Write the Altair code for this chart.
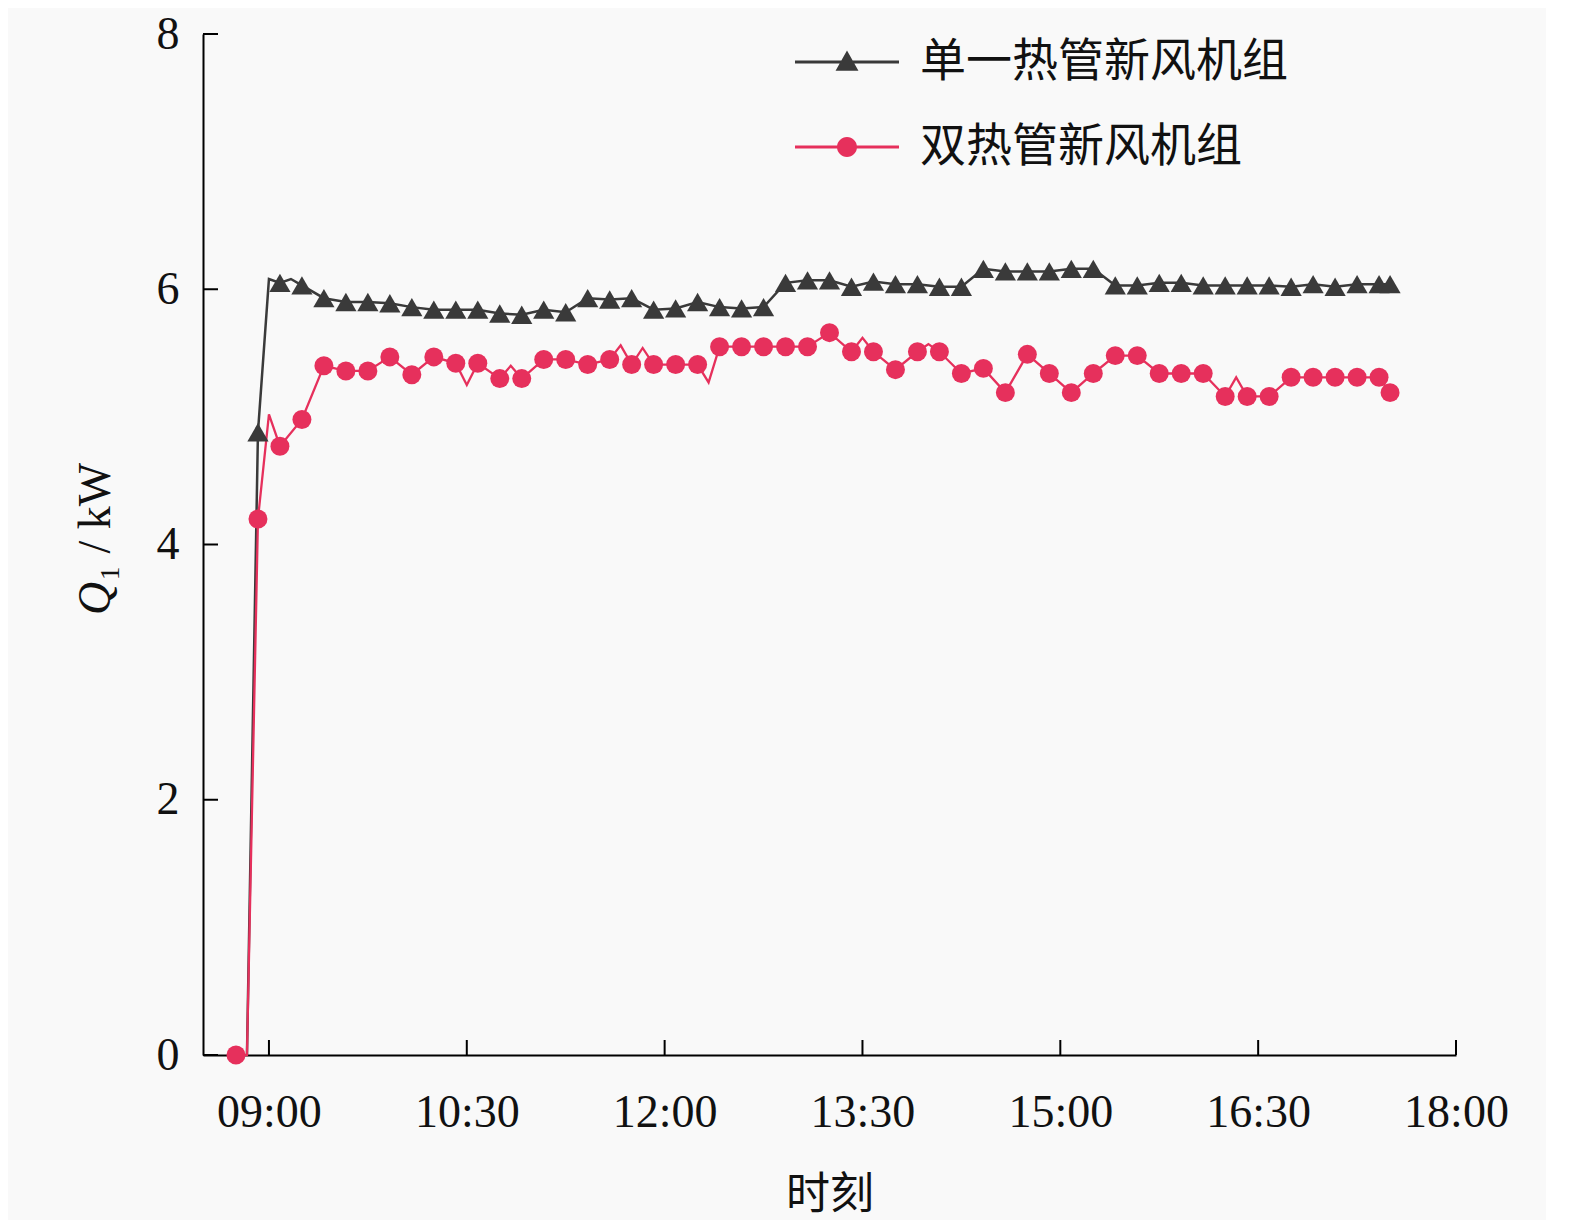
import altair as alt
import pandas as pd

black_name = "单一热管新风机组"
red_name = "双热管新风机组"

# marker points (10-minute readings)
red_mk_times = ["08:45", "08:55", "09:05", "09:15", "09:25", "09:35", "09:45", "09:55",
                "10:05", "10:15", "10:25", "10:35", "10:45", "10:55",
                "11:05", "11:15", "11:25", "11:35", "11:45", "11:55",
                "12:05", "12:15", "12:25", "12:35", "12:45", "12:55",
                "13:05", "13:15", "13:25", "13:35", "13:45", "13:55",
                "14:05", "14:15", "14:25", "14:35", "14:45", "14:55",
                "15:05", "15:15", "15:25", "15:35", "15:45", "15:55",
                "16:05", "16:15", "16:25", "16:35", "16:45", "16:55",
                "17:05", "17:15", "17:25", "17:30"]
red_mk_vals = [0.00, 4.20, 4.77, 4.98, 5.40, 5.36, 5.36, 5.47,
               5.33, 5.47, 5.42, 5.42, 5.30, 5.30,
               5.45, 5.45, 5.41, 5.45, 5.41, 5.41,
               5.41, 5.41, 5.55, 5.55, 5.55, 5.55,
               5.55, 5.66, 5.51, 5.51, 5.37, 5.51,
               5.51, 5.34, 5.38, 5.19, 5.49, 5.34,
               5.19, 5.34, 5.48, 5.48, 5.34, 5.34,
               5.34, 5.16, 5.16, 5.16, 5.31, 5.31,
               5.31, 5.31, 5.31, 5.19]
# intermediate readings (line only)
red_ex_times = ["08:50", "09:00", "10:30", "10:50", "11:40", "11:50", "12:20", "13:30", "14:00", "16:20"]
red_ex_vals = [0.00, 5.02, 5.25, 5.40, 5.56, 5.54, 5.27, 5.62, 5.57, 5.31]

black_mk_times = red_mk_times[1:]
black_mk_vals = [4.88, 6.05, 6.03, 5.93, 5.90, 5.90, 5.89,
                 5.86, 5.84, 5.84, 5.84, 5.81, 5.80,
                 5.84, 5.82, 5.93, 5.92, 5.93, 5.84,
                 5.85, 5.90, 5.86, 5.85, 5.86, 6.05,
                 6.07, 6.07, 6.02, 6.06, 6.04, 6.04,
                 6.02, 6.02, 6.16, 6.14, 6.14, 6.14,
                 6.16, 6.16, 6.03, 6.03, 6.05, 6.05,
                 6.03, 6.03, 6.03, 6.03, 6.02, 6.04,
                 6.02, 6.04, 6.04, 6.04]
black_ex_times = ["08:50", "09:00", "09:10"]
black_ex_vals = [0.00, 6.08, 6.08]

x_tick_vals = [540, 630, 720, 810, 900, 990, 1080]
y_tick_vals = [0, 2, 4, 6, 8]

series_names = [black_name, red_name]
series_colors = ["#3a3a3a", "#e6305c"]

y_title_parts = ["Q", "₁ / kW"]


def to_min(s):
    h, m = s.split(":")
    return int(h) * 60 + int(m)


def frame(times, vals, name):
    return pd.DataFrame({"t": [to_min(s) for s in times], "v": vals, "series": name})


pts = pd.concat([frame(black_mk_times, black_mk_vals, black_name),
                 frame(red_mk_times, red_mk_vals, red_name)], ignore_index=True)
line_df = pd.concat([pts,
                     frame(black_ex_times, black_ex_vals, black_name),
                     frame(red_ex_times, red_ex_vals, red_name)], ignore_index=True)
line_df = line_df.sort_values(["series", "t"]).reset_index(drop=True)

W, H = 1253, 1021
num_font = "Liberation Serif"
cjk_font = "Noto Sans CJK SC"

xscale = alt.Scale(domain=[510, 1080], nice=False, zero=False)
yscale = alt.Scale(domain=[0, 8], nice=False)
cscale = alt.Scale(domain=series_names, range=series_colors)

xaxis = alt.Axis(values=x_tick_vals,
                 labelExpr="(datum.value < 600 ? '0' : '') + floor(datum.value / 60) + ':' + (datum.value % 60 == 0 ? '00' : '30')",
                 ticks=False, grid=False, domainColor="#000", domainWidth=2,
                 labelFont=num_font, labelFontSize=46, labelColor="#111", labelPadding=35,
                 labelFlush=False, labelOverlap=False,
                 title="时刻", titleFont=cjk_font, titleFontSize=44, titleFontWeight="normal",
                 titleColor="#111", titlePadding=38)
yaxis = alt.Axis(values=y_tick_vals, format="d", ticks=False, grid=False, domainColor="#000",
                 domainWidth=2, labelFont=num_font, labelFontSize=46, labelColor="#111",
                 labelPadding=24, labelFlush=False, labelOverlap=False, title=None)

X = alt.X("t:Q", scale=xscale, axis=xaxis)
Y = alt.Y("v:Q", scale=yscale, axis=yaxis)

line_black = alt.Chart(line_df).transform_filter(alt.datum.series == black_name).mark_line(
    strokeWidth=2.5, color=series_colors[0]).encode(x=X, y=Y, order="t:Q")
line_red = alt.Chart(line_df).transform_filter(alt.datum.series == red_name).mark_line(
    strokeWidth=2.3, color=series_colors[1]).encode(
    x=alt.X("t:Q", scale=xscale), y=alt.Y("v:Q", scale=yscale), order="t:Q")

tri_pts = alt.Chart(pts).transform_filter(alt.datum.series == black_name).mark_point(
    shape="triangle-up", filled=True, size=450, opacity=1, color=series_colors[0]).encode(
    x=alt.X("t:Q", scale=xscale), y=alt.Y("v:Q", scale=yscale))
circ_pts = alt.Chart(pts).transform_filter(alt.datum.series == red_name).mark_point(
    shape="circle", filled=True, size=360, opacity=1, color=series_colors[1]).encode(
    x=alt.X("t:Q", scale=xscale), y=alt.Y("v:Q", scale=yscale))

# legend symbols: line + marker
path_tri = "M-2.5,-0.07H2.5V0.07H-2.5Z M0,-0.55L0.55,0.42L-0.55,0.42Z"
path_circ = ("M-2.5,-0.07H2.5V0.07H-2.5Z M0.48,0C0.48,0.265 0.265,0.48 0,0.48"
             "C-0.265,0.48 -0.48,0.265 -0.48,0C-0.48,-0.265 -0.265,-0.48 0,-0.48"
             "C0.265,-0.48 0.48,-0.265 0.48,0Z")
leg_props = dict(orient="none", legendX=621, legendY=5, title=None, padding=0,
                 labelFont=cjk_font, labelFontSize=46, labelColor="#111", labelLimit=0,
                 symbolSize=1731, symbolStrokeWidth=0, symbolOpacity=1,
                 rowPadding=39, labelOffset=50)
legend_layer = alt.Chart(pts).transform_filter("false").mark_point(filled=True).encode(
    x=alt.X("t:Q", scale=xscale), y=alt.Y("v:Q", scale=yscale),
    color=alt.Color("series:N", scale=cscale, legend=alt.Legend(**leg_props)),
    shape=alt.Shape("series:N", scale=alt.Scale(domain=series_names, range=[path_tri, path_circ]),
                    legend=alt.Legend(**leg_props)))

xt = pd.DataFrame({"t": x_tick_vals})
yt = pd.DataFrame({"v": y_tick_vals})
x_ticks = alt.Chart(xt).mark_rule(color="#000", strokeWidth=2).encode(
    x=alt.X("t:Q", scale=xscale), y=alt.value(H), y2=alt.value(H - 15))
y_ticks = alt.Chart(yt).mark_rule(color="#000", strokeWidth=2).encode(
    y=alt.Y("v:Q", scale=yscale), x=alt.value(0), x2=alt.value(15))

# y-axis title: italic Q + upright "₁ / kW"
title_q = alt.Chart(pd.DataFrame({"s": [y_title_parts[0]]})).mark_text(
    angle=270, align="left", baseline="alphabetic", font=num_font, fontSize=46,
    fontStyle="italic", color="#111").encode(text="s:N", x=alt.value(-93), y=alt.value(581))
title_rest = alt.Chart(pd.DataFrame({"s": [y_title_parts[1]]})).mark_text(
    angle=270, align="left", baseline="alphabetic", font=num_font, fontSize=46,
    color="#111").encode(text="s:N", x=alt.value(-93), y=alt.value(547))

chart = alt.layer(line_black, line_red, tri_pts, circ_pts, x_ticks, y_ticks, legend_layer,
                  title_q, title_rest).properties(
    width=W, height=H,
    autosize=alt.AutoSizeParams(type="none"),
    padding={"left": 195, "top": 26, "right": 90, "bottom": 165},
    background="#f9f9f9",
).configure_view(stroke=None)

chart.save("out.html", embed_options={"renderer": "svg", "actions": False})
